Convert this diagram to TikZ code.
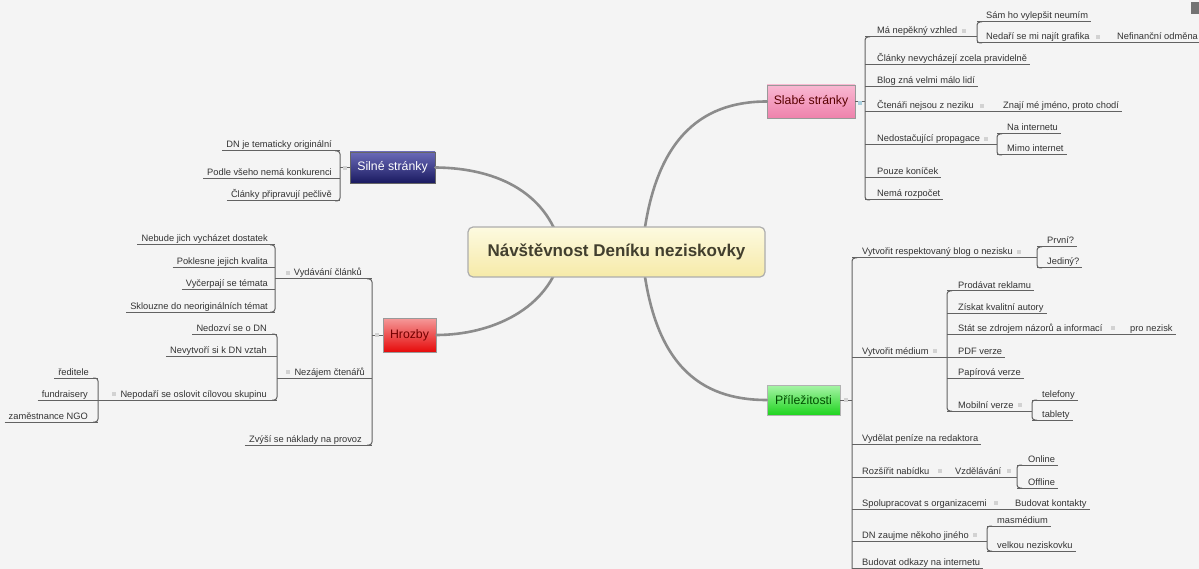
\documentclass[tikz,border=0pt]{standalone}
\usepackage{fontspec}
\setmainfont{Liberation Sans}
\usetikzlibrary{calc}
\definecolor{bg}{HTML}{F4F4F4}
\definecolor{txt}{HTML}{333333}
\definecolor{lin}{HTML}{626262}
\definecolor{curv}{HTML}{8C8C8C}
\definecolor{dotc}{HTML}{D2D2D2}
\definecolor{silT}{HTML}{6A6AB8}
\definecolor{silB}{HTML}{1A1A60}
\definecolor{slaT}{HTML}{F9B8D2}
\definecolor{slaB}{HTML}{EE82AC}
\definecolor{hroT}{HTML}{F59A9A}
\definecolor{hroB}{HTML}{E60A0A}
\definecolor{priT}{HTML}{A8F4A8}
\definecolor{priB}{HTML}{1ED41E}
\definecolor{cenT}{HTML}{FDFAE0}
\definecolor{cenB}{HTML}{F6EAA8}
\newcommand\kR[4]{\node[lbl,anchor=base west] (#1) at (#2,#3-3) {#4};}
\newcommand\kL[4]{\node[lbl,anchor=base east] (#1) at (#2,#3-3) {#4};}
\newcommand\cR[5]{\kR{#1}{#3}{#4}{#5}\draw[ul] (#2,#4) -- ($(#1.base east)+(3,3)$);}
\newcommand\pR[6]{\kR{#1}{#3}{#4}{#5}\draw[ul] (#2,#4) -- (#6,#4);\node[dot] (d#1) at ($(#1.base east)+(6,-3)$) {};}
\newcommand\cL[5]{\kL{#1}{#3}{#4}{#5}\draw[ul] ($(#1.base west)+(-4,3)$) -- (#2,#4);}
\newcommand\pL[6]{\kL{#1}{#3}{#4}{#5}\draw[ul] (#6,#4) -- (#2,#4);\node[dot] (d#1) at ($(#1.base west)+(-6,-3)$) {};}
\newcommand\bR[3]{\draw[brk] (#1+5,#2) -- (#1,#2) -- (#1,#3) -- (#1+5,#3);}
\newcommand\bL[3]{\draw[brk] (#1-5,#2) -- (#1,#2) -- (#1,#3) -- (#1-5,#3);}
\begin{document}
\begin{tikzpicture}[x=1pt,y=-1pt,
  lbl/.style={font=\fontsize{9.3}{11}\selectfont, text=txt, inner sep=0pt},
  ul/.style={draw=lin, line width=1pt},
  brk/.style={draw=lin, line width=1pt, rounded corners=3pt},
  dot/.style={fill=dotc, minimum size=4pt, inner sep=0pt},
  curve/.style={draw=curv, line width=2.6pt, line cap=round},
  branch/.style={draw=#1, line width=0.6pt, font=\fontsize{12.3}{14}\selectfont, inner sep=0pt},
  centre/.style={draw=black!32, line width=1.2pt, rounded corners=5pt, top color=cenT, bottom color=cenB,
    text=black!70!olive, font=\fontsize{17}{20}\selectfont\bfseries, minimum width=297pt, minimum height=50pt, inner sep=0pt}]
\useasboundingbox (0,0) rectangle (1199,569);
\clip (0,0) rectangle (1199,569);
\fill[bg] (0,0) rectangle (1199,569);
\fill[black!55] (1191,2) rectangle (1199,14);

% main nodes
\node[branch=black!60, top color=silT, bottom color=silB, text=white, minimum width=85pt, minimum height=31pt] (S) at (392.5,167.5) {Silné stránky};
\node[branch=black!40, top color=slaT, bottom color=slaB, text=black!65!red, minimum width=88pt, minimum height=33pt] (W) at (811,101.5) {Slabé stránky};
\node[branch=black!40, top color=hroT, bottom color=hroB, text=red!45!black, minimum width=53pt, minimum height=34pt] (H) at (409.5,335) {Hrozby};
\node[branch=black!30, top color=priT, bottom color=priB, text=green!30!black, minimum width=73pt, minimum height=30pt] (O) at (803.5,400) {Příležitosti};

% curves (drawn under the centre node)
\coordinate (cl) at (562,252);
\coordinate (cr) at (642,252);
\draw[curve] (cl) .. controls (550,195) and (500,168) .. (S.east);
\draw[curve] (cr) .. controls (652,140) and (700,101.5) .. (W.west);
\draw[curve] (cl) .. controls (550,310) and (490,335) .. (H.east);
\draw[curve] (cr) .. controls (652,365) and (700,400) .. (O.west);
\node[centre] (C) at (616.5,252) {Návštěvnost Deníku neziskovky};

% ---------- Silné stránky ----------
\coordinate (bS) at (340,167.5);
\draw[ul] (S.west) -- (bS);
\node[dot] (dS) at (345,168) {};
\bL{340}{151}{201}
\cL{s1}{340}{332}{151}{DN je tematicky originální}
\cL{s2}{340}{332}{179}{Podle všeho nemá konkurenci}
\cL{s3}{340}{332}{201}{Články připravují pečlivě}

% ---------- Slabé stránky ----------
\coordinate (bW) at (865,101.5);
\draw[ul] (W.east) -- (bW);
\node[dot, fill=cyan!25!dotc] (dW) at (860,103) {};
\bR{865}{37}{200}
\pR{w1}{865}{877}{37}{Má nepěkný vzhled}{977}
\bR{977}{22}{43}
\cR{w1a}{977}{986}{22}{Sám ho vylepšit neumím}
\kR{w1b}{986}{43}{Nedaří se mi najít grafika}
\node[dot] (dw1b) at ($(w1b.base east)+(8,-3)$) {};
\kR{w1c}{1117}{43}{Nefinanční odměna}
\draw[ul] (977,43) -- ($(w1c.base east)+(3,3)$);
\cR{w2}{865}{877}{65}{Články nevycházejí zcela pravidelně}
\cR{w3}{865}{877}{87}{Blog zná velmi málo lidí}
\kR{w4}{877}{112}{Čtenáři nejsou z neziku}
\node[dot] (dw4) at ($(w4.base east)+(8,-3)$) {};
\kR{w4a}{1003}{112}{Znají mé jméno, proto chodí}
\draw[ul] (865,112) -- ($(w4a.base east)+(3,3)$);
\pR{w5}{865}{877}{145}{Nedostačující propagace}{997}
\bR{997}{134}{155}
\cR{w5a}{997}{1007}{134}{Na internetu}
\cR{w5b}{997}{1007}{155}{Mimo internet}
\cR{w6}{865}{877}{178}{Pouze koníček}
\cR{w7}{865}{877}{200}{Nemá rozpočet}

% ---------- Hrozby ----------
\coordinate (bH) at (372,335);
\draw[ul] (H.west) -- (bH);
\node[dot] (dH) at (377,335) {};
\bL{372}{279}{445}
\pL{h1}{372}{362}{279}{Vydávání článků}{275}
\bL{275}{245}{312}
\cL{h1a}{275}{268}{245}{Nebude jich vycházet dostatek}
\cL{h1b}{275}{268}{268}{Poklesne jejich kvalita}
\cL{h1c}{275}{268}{290}{Vyčerpají se témata}
\cL{h1d}{275}{268}{312}{Sklouzne do neoriginálních témat}
\pL{h2}{372}{365}{378}{Nezájem čtenářů}{277}
\bL{277}{334}{400}
\cL{h2a}{277}{267}{334}{Nedozví se o DN}
\cL{h2b}{277}{267}{356}{Nevytvoří si k DN vztah}
\pL{h2c}{277}{267}{400}{Nepodaří se oslovit cílovou skupinu}{98}
\bL{98}{378}{422}
\cL{h2c1}{98}{89}{378}{ředitele}
\cL{h2c2}{98}{88}{400}{fundraisery}
\cL{h2c3}{98}{88}{422}{zaměstnance NGO}
\cL{h3}{372}{362}{445}{Zvýší se náklady na provoz}

% ---------- Příležitosti ----------
\coordinate (bO) at (852,400);
\draw[ul] (O.east) -- (bO);
\node[dot] (dO) at (846,400) {};
\draw[brk] (857,258) -- (852,258) -- (852,600);
\pR{o1}{852}{862}{258}{Vytvořit respektovaný blog o nezisku}{1037}
\bR{1037}{247}{268}
\cR{o1a}{1037}{1047}{247}{První?}
\cR{o1b}{1037}{1047}{268}{Jediný?}
\pR{o2}{852}{862}{357}{Vytvořit médium}{947}
\bR{947}{291}{411}
\cR{o2a}{947}{958}{291}{Prodávat reklamu}
\cR{o2b}{947}{958}{313}{Získat kvalitní autory}
\kR{o2c}{958}{334}{Stát se zdrojem názorů a informací}
\node[dot] (do2c) at ($(o2c.base east)+(10,-3)$) {};
\kR{o2c1}{1130}{334}{pro nezisk}
\draw[ul] (947,334) -- ($(o2c1.base east)+(3,3)$);
\cR{o2d}{947}{958}{357}{PDF verze}
\cR{o2e}{947}{958}{378}{Papírová verze}
\pR{o2f}{947}{958}{411}{Mobilní verze}{1032}
\bR{1032}{400}{420}
\cR{o2f1}{1032}{1042}{400}{telefony}
\cR{o2f2}{1032}{1042}{420}{tablety}
\cR{o3}{852}{862}{444}{Vydělat peníze na redaktora}
\kR{o4}{862}{477}{Rozšířit nabídku}
\node[dot] (do4) at ($(o4.base east)+(10,-3)$) {};
\kR{o4a}{955}{477}{Vzdělávání}
\node[dot] (do4a) at ($(o4a.base east)+(8,-3)$) {};
\draw[ul] (852,477) -- (1017,477);
\bR{1017}{465}{488}
\cR{o4a1}{1017}{1028}{465}{Online}
\cR{o4a2}{1017}{1028}{488}{Offline}
\kR{o5}{862}{509}{Spolupracovat s organizacemi}
\node[dot] (do5) at ($(o5.base east)+(9,-3)$) {};
\kR{o5a}{1015}{509}{Budovat kontakty}
\draw[ul] (852,509) -- ($(o5a.base east)+(3,3)$);
\pR{o6}{852}{862}{541}{DN zaujme někoho jiného}{987}
\bR{987}{526}{551}
\cR{o6a}{987}{997}{526}{masmédium}
\cR{o6b}{987}{997}{551}{velkou neziskovku}
\cR{o7}{852}{862}{568}{Budovat odkazy na internetu}
\end{tikzpicture}
\end{document}
